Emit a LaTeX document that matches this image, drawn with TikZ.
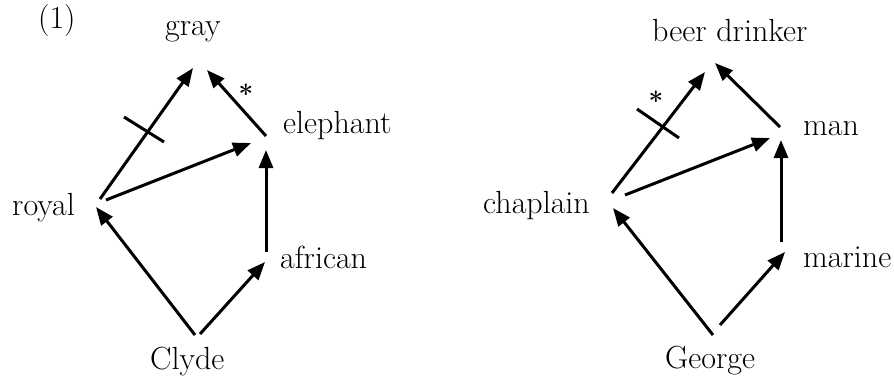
\documentclass[tikz,border=0pt]{standalone}
\usetikzlibrary{arrows.meta}
\tikzset{
  lbl/.style={anchor=base west, inner sep=0pt, font=\fontsize{32}{35}\selectfont},
  isa/.style={line width=3pt, -{Triangle[length=18pt,width=14pt]}},
  bar/.style={line width=3pt},
  star/.style={inner sep=0pt, font=\bfseries\fontsize{26}{28}\selectfont}
}
\begin{document}
\begin{tikzpicture}[x=1pt, y=-1pt]
\useasboundingbox (0,0) rectangle (894,378);

% ---------- first network ----------
\node[lbl] (num) at (38,28) {(1)};
\node[lbl] (gray) at (165,35) {gray};
\node[lbl] (eleph) at (283,133) {elephant};
\node[lbl] (royal) at (12,215) {royal};
\node[lbl] (afr) at (280,268) {african};
\node[lbl] (clyde) at (150,369) {Clyde};

\coordinate (g1) at (193,68);
\coordinate (g2) at (207,70);
\coordinate (eout) at (266,136);
\coordinate (ein1) at (251,143);
\coordinate (ein2) at (266,150);
\coordinate (rout1) at (100,199);
\coordinate (rout2) at (106,200);
\coordinate (rin) at (96,207);
\coordinate (aout) at (266,252);
\coordinate (ain) at (265,262);
\coordinate (cout1) at (195,335);
\coordinate (cout2) at (200,334);
\coordinate (x1a) at (124,117);
\coordinate (x1b) at (164,142);

\draw[isa] (rout1) -- (g1);
\draw[isa] (eout) -- (g2);
\draw[isa] (rout2) -- (ein1);
\draw[isa] (aout) -- (ein2);
\draw[isa] (cout1) -- (rin);
\draw[isa] (cout2) -- (ain);
\draw[bar] (x1a) -- (x1b);
\node[star] (s1) at (246,94) {*};

% ---------- second network ----------
\node[lbl] (beer) at (652,41) {beer drinker};
\node[lbl] (man) at (803,135) {man};
\node[lbl] (chap) at (483,213) {chaplain};
\node[lbl] (mar) at (803,267) {marine};
\node[lbl] (george) at (665,368) {George};

\coordinate (b1) at (705,72);
\coordinate (b2) at (715,63);
\coordinate (mout) at (780,127);
\coordinate (min1) at (770,138);
\coordinate (min2) at (781,140);
\coordinate (chout1) at (612,193);
\coordinate (chout2) at (625,195);
\coordinate (chin) at (613,208);
\coordinate (marout) at (781,242);
\coordinate (marin) at (785,252);
\coordinate (geout1) at (713,335);
\coordinate (geout2) at (720,325);
\coordinate (x2a) at (637,109);
\coordinate (x2b) at (679,138);

\draw[isa] (chout1) -- (b1);
\draw[isa] (mout) -- (b2);
\draw[isa] (chout2) -- (min1);
\draw[isa] (marout) -- (min2);
\draw[isa] (geout1) -- (chin);
\draw[isa] (geout2) -- (marin);
\draw[bar] (x2a) -- (x2b);
\node[star] (s2) at (656,101) {*};
\end{tikzpicture}
\end{document}
